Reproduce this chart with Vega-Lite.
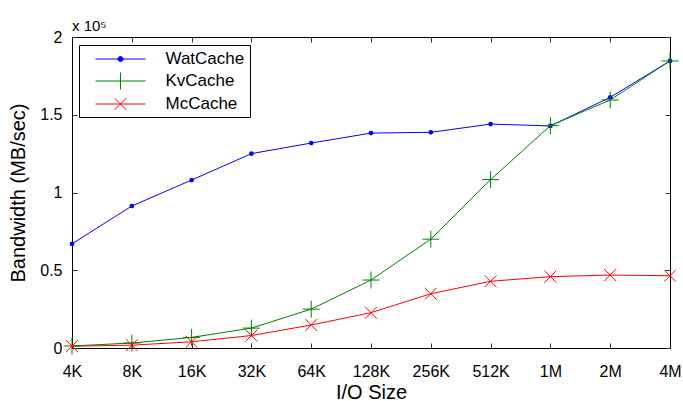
{
  "$schema": "https://vega.github.io/schema/vega-lite/v6.json",
  "width": 598,
  "height": 311,
  "autosize": "none",
  "padding": {"left": 72, "top": 37, "right": 13, "bottom": 53},
  "background": "white",
  "config": {
    "font": "Liberation Sans",
    "view": {"stroke": "black", "strokeWidth": 1},
    "axis": {"grid": false, "domainColor": "black", "tickColor": "#333333", "labelColor": "black", "titleColor": "black", "labelFont": "Liberation Sans", "titleFont": "Liberation Sans", "titleFontWeight": "normal"}
  },
  "title": {"text": "x 10⁵", "anchor": "start", "frame": "group", "fontSize": 15, "fontWeight": "normal", "font": "Liberation Sans", "color": "black", "offset": 8, "dy": 13},
  "data": {
    "values": [
      {"size": "4K", "series": "WatCache", "bw": 67000},
      {"size": "8K", "series": "WatCache", "bw": 91300},
      {"size": "16K", "series": "WatCache", "bw": 108000},
      {"size": "32K", "series": "WatCache", "bw": 125000},
      {"size": "64K", "series": "WatCache", "bw": 131800},
      {"size": "128K", "series": "WatCache", "bw": 138200},
      {"size": "256K", "series": "WatCache", "bw": 138700},
      {"size": "512K", "series": "WatCache", "bw": 144000},
      {"size": "1M", "series": "WatCache", "bw": 142800},
      {"size": "2M", "series": "WatCache", "bw": 161200},
      {"size": "4M", "series": "WatCache", "bw": 184600},
      {"size": "4K", "series": "KvCache", "bw": 1300},
      {"size": "8K", "series": "KvCache", "bw": 3200},
      {"size": "16K", "series": "KvCache", "bw": 6800},
      {"size": "32K", "series": "KvCache", "bw": 12800},
      {"size": "64K", "series": "KvCache", "bw": 25000},
      {"size": "128K", "series": "KvCache", "bw": 43700},
      {"size": "256K", "series": "KvCache", "bw": 70000},
      {"size": "512K", "series": "KvCache", "bw": 108300},
      {"size": "1M", "series": "KvCache", "bw": 143000},
      {"size": "2M", "series": "KvCache", "bw": 159500},
      {"size": "4M", "series": "KvCache", "bw": 184600},
      {"size": "4K", "series": "McCache", "bw": 1200},
      {"size": "8K", "series": "McCache", "bw": 1800},
      {"size": "16K", "series": "McCache", "bw": 4000},
      {"size": "32K", "series": "McCache", "bw": 8000},
      {"size": "64K", "series": "McCache", "bw": 14800},
      {"size": "128K", "series": "McCache", "bw": 22700},
      {"size": "256K", "series": "McCache", "bw": 34900},
      {"size": "512K", "series": "McCache", "bw": 42900},
      {"size": "1M", "series": "McCache", "bw": 45900},
      {"size": "2M", "series": "McCache", "bw": 46900},
      {"size": "4M", "series": "McCache", "bw": 46500}
    ]
  },
  "layer": [
    {
      "mark": {"type": "line", "strokeWidth": 1},
      "encoding": {
        "x": {"field": "size", "type": "ordinal", "sort": ["4K","8K","16K","32K","64K","128K","256K","512K","1M","2M","4M"], "scale": {"type": "point", "padding": 0},
          "axis": {"orient": "bottom", "title": "I/O Size", "titleFontSize": 20, "titlePadding": 3, "labelFontSize": 16, "labelAngle": 0, "labelPadding": 20, "tickSize": -5}},
        "y": {"field": "bw", "type": "quantitative", "scale": {"domain": [0, 200000], "nice": false, "zero": true},
          "axis": {"orient": "left", "title": "Bandwidth (MB/sec)", "titleFontSize": 20, "titlePadding": 11, "labelFontSize": 16, "labelPadding": 15, "tickSize": -5, "values": [0, 50000, 100000, 150000, 200000], "labelExpr": "format(datum.value/100000, '~g')"}},
        "color": {"field": "series", "type": "nominal",
          "scale": {"domain": ["WatCache", "KvCache", "McCache"], "range": ["#0000ff", "#008000", "#ff0000"]},
          "legend": {
            "title": null, "orient": "none", "legendX": 7, "legendY": 8,
            "labelFontSize": 17, "labelFont": "Liberation Sans", "labelColor": "black",
            "strokeColor": "black", "fillColor": "white", "padding": 5, "rowPadding": 3,
            "symbolSize": 289, "symbolOffset": 27.5, "labelOffset": 36,
            "encode": {"symbols": {"update": {
              "shape": {"signal": "datum.value === 'WatCache' ? 'M-2.94,0L2.94,0M-0.3,0A0.3,0.3 0 1,1 0.3,0A0.3,0.3 0 1,1 -0.3,0Z' : datum.value === 'KvCache' ? 'M-2.94,0L2.94,0M0,-1L0,1' : 'M-2.94,0L2.94,0M-0.7,-0.7L0.7,0.7M-0.7,0.7L0.7,-0.7'"},
              "size": {"value": 289},
              "fill": {"signal": "datum.value === 'WatCache' ? '#0000ff' : 'transparent'"},
              "stroke": {"signal": "datum.value === 'WatCache' ? '#0000ff' : datum.value === 'KvCache' ? '#008000' : '#ff0000'"},
              "strokeWidth": {"value": 1},
              "opacity": {"value": 1}
            }}}
          }}
      }
    },
    {
      "transform": [{"filter": {"field": "series", "equal": "WatCache"}}],
      "mark": {"type": "point", "filled": true, "color": "#0000ff", "opacity": 1, "size": 22, "shape": "circle"},
      "encoding": {
        "x": {"field": "size", "type": "ordinal", "sort": ["4K","8K","16K","32K","64K","128K","256K","512K","1M","2M","4M"], "scale": {"type": "point", "padding": 0},
          "axis": {"orient": "top", "title": null, "labels": false, "tickSize": -5, "domain": true}},
        "y": {"field": "bw", "type": "quantitative",
          "axis": {"orient": "right", "title": null, "labels": false, "tickSize": -5, "values": [0, 50000, 100000, 150000, 200000]}}
      }
    },
    {
      "transform": [{"filter": {"field": "series", "equal": "KvCache"}}],
      "mark": {"type": "point", "filled": false, "stroke": "#008000", "strokeWidth": 1, "opacity": 1, "size": 289, "shape": "M-1,0L1,0M0,-1L0,1"},
      "encoding": {
        "x": {"field": "size", "type": "ordinal", "sort": ["4K","8K","16K","32K","64K","128K","256K","512K","1M","2M","4M"], "scale": {"type": "point", "padding": 0}, "axis": null},
        "y": {"field": "bw", "type": "quantitative", "axis": null}
      }
    },
    {
      "transform": [{"filter": {"field": "series", "equal": "McCache"}}],
      "mark": {"type": "point", "filled": false, "stroke": "#ff0000", "strokeWidth": 1, "opacity": 1, "size": 289, "shape": "M-0.7,-0.7L0.7,0.7M-0.7,0.7L0.7,-0.7"},
      "encoding": {
        "x": {"field": "size", "type": "ordinal", "sort": ["4K","8K","16K","32K","64K","128K","256K","512K","1M","2M","4M"], "scale": {"type": "point", "padding": 0}, "axis": null},
        "y": {"field": "bw", "type": "quantitative", "axis": null}
      }
    }
  ],
  "resolve": {"axis": {"x": "independent", "y": "independent"}}
}
